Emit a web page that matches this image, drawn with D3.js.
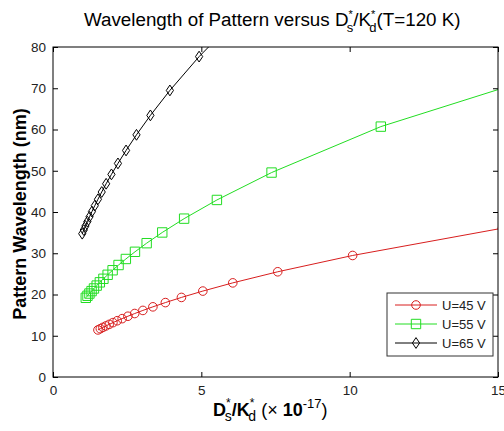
<!DOCTYPE html>
<html><head><meta charset="utf-8">
<script src="https://cdn.jsdelivr.net/npm/d3@7"></script>
<style>body{margin:0;background:#fff}svg{display:block;font-family:"Liberation Sans",Arial,sans-serif}</style>
</head><body><svg id="c" width="504" height="431"></svg>
<script>
// ---- data ----
const xTicks = [0, 5, 10, 15];
const yTicks = [0, 10, 20, 30, 40, 50, 60, 70, 80];
const seriesNames = ["U=45 V", "U=55 V", "U=65 V"];
const x45 = [30.3, 15.15, 10.10, 7.575, 6.06, 5.05, 4.329, 3.788, 3.367, 3.03, 2.755, 2.525, 2.331, 2.164, 2.02, 1.894, 1.782, 1.683, 1.595, 1.515];
const y45 = [51.0, 36.08, 29.46, 25.51, 22.82, 20.83, 19.29, 18.04, 17.01, 16.14, 15.39, 14.73, 14.15, 13.64, 13.18, 12.76, 12.38, 12.03, 11.71, 11.41];
const x55 = [22.1, 11.05, 7.367, 5.525, 4.42, 3.683, 3.157, 2.763, 2.456, 2.21, 2.009, 1.842, 1.70, 1.579, 1.473, 1.381, 1.30, 1.228, 1.163, 1.105];
const y55 = [85.8, 60.70, 49.56, 42.92, 38.39, 35.04, 32.44, 30.35, 28.61, 27.15, 25.88, 24.78, 23.81, 22.95, 22.16, 21.46, 20.82, 20.23, 19.69, 19.20];
const x65 = [19.7, 9.85, 6.567, 4.925, 3.94, 3.283, 2.814, 2.4625, 2.189, 1.97, 1.791, 1.642, 1.515, 1.407, 1.313, 1.231, 1.159, 1.094, 1.037, 0.985];
const y65 = [155.3, 109.8, 89.69, 77.67, 69.47, 63.42, 58.71, 54.92, 51.78, 49.12, 46.84, 44.85, 43.08, 41.52, 40.11, 38.84, 37.67, 36.61, 35.63, 34.74];

const colors = ["#d81e1e", "#22dd22", "#000000"];
const shapes = ["circle", "square", "diamond"];
const series = [[x45, y45], [x55, y55], [x65, y65]].map((d, i) => ({
  name: seriesNames[i], color: colors[i], shape: shapes[i],
  pts: d[0].map((v, j) => [v, d[1][j]])
}));

const svg = d3.select("#c");
const L = 53, R = 498, T = 47, B = 377;
const x = d3.scaleLinear().domain([0, 15]).range([L, R]);
const y = d3.scaleLinear().domain([0, 80]).range([B, T]);

svg.append("rect").attr("width", 504).attr("height", 431).attr("fill", "#fff");
svg.append("defs").append("clipPath").attr("id", "clip")
  .append("rect").attr("x", L).attr("y", T).attr("width", R - L).attr("height", B - T);

function markerPath(shape, cx, cy) {
  if (shape === "circle") { const r = 4.3; return `M${cx - r},${cy}a${r},${r} 0 1,0 ${2 * r},0a${r},${r} 0 1,0 ${-2 * r},0Z`; }
  if (shape === "square") { const s = 4.7; return `M${cx - s},${cy - s}h${2 * s}v${2 * s}h${-2 * s}Z`; }
  const w = 3.6, h = 5.4; return `M${cx},${cy - h}L${cx + w},${cy}L${cx},${cy + h}L${cx - w},${cy}Z`;
}

const plot = svg.append("g").attr("clip-path", "url(#clip)");
const line = d3.line().x(d => x(d[0])).y(d => y(d[1]));
series.forEach(s => {
  plot.append("path").attr("d", line(s.pts)).attr("fill", "none")
    .attr("stroke", s.color).attr("stroke-width", 1);
  plot.selectAll(null).data(s.pts).enter().append("path")
    .attr("d", d => markerPath(s.shape, x(d[0]), y(d[1])))
    .attr("fill", "none").attr("stroke", s.color).attr("stroke-width", 1);
});

// axes
function styleAxis(g, labels) {
  g.selectAll(".domain").remove();
  g.selectAll("line").attr("stroke", "#000");
  g.selectAll("text").attr("font-size", 13.5).attr("fill", "#222")
    .attr("font-family", "'Liberation Sans',Arial,sans-serif");
  if (!labels) g.selectAll("text").remove();
}
svg.append("g").attr("transform", `translate(0,${B})`)
  .call(d3.axisBottom(x).tickValues(xTicks).tickSize(-5).tickPadding(8).tickFormat(d3.format("d")))
  .call(g => styleAxis(g, true));
svg.append("g").attr("transform", `translate(0,${T})`)
  .call(d3.axisTop(x).tickValues(xTicks).tickSize(-5))
  .call(g => styleAxis(g, false));
svg.append("g").attr("transform", `translate(${L},0)`)
  .call(d3.axisLeft(y).tickValues(yTicks).tickSize(-5).tickPadding(7).tickFormat(d3.format("d")))
  .call(g => styleAxis(g, true));
svg.append("g").attr("transform", `translate(${R},0)`)
  .call(d3.axisRight(y).tickValues(yTicks).tickSize(-5))
  .call(g => styleAxis(g, false));
svg.append("rect").attr("x", L).attr("y", T).attr("width", R - L).attr("height", B - T)
  .attr("fill", "none").attr("stroke", "#000").attr("stroke-width", 1);

// title
const title = svg.append("text").attr("x", 84).attr("y", 26).attr("font-size", 18.8).attr("fill", "#000");
title.append("tspan").text("Wavelength of Pattern versus D");
title.append("tspan").attr("dy", -8).attr("font-size", 11).text("*");
title.append("tspan").attr("dx", -6).attr("dy", 14).attr("font-size", 13).text("s");
title.append("tspan").attr("dy", -6).text("/K");
title.append("tspan").attr("dy", -8).attr("font-size", 11).text("*");
title.append("tspan").attr("dx", -6).attr("dy", 14).attr("font-size", 13).text("d");
title.append("tspan").attr("dy", -6).text("(T=120 K)");

// x label
const xl = svg.append("text").attr("x", 213).attr("y", 416).attr("font-size", 18).attr("fill", "#000");
xl.append("tspan").attr("font-weight", "bold").text("D");
xl.append("tspan").attr("dy", -9).attr("font-size", 12).text("*");
xl.append("tspan").attr("dx", -6).attr("dy", 14).attr("font-size", 14).text("s");
xl.append("tspan").attr("dy", -5).attr("font-weight", "bold").text("/K");
xl.append("tspan").attr("dy", -9).attr("font-size", 12).text("*");
xl.append("tspan").attr("dx", -6).attr("dy", 14).attr("font-size", 14).text("d");
xl.append("tspan").attr("dy", -5).attr("dx", 5).text("(× ");
xl.append("tspan").attr("font-weight", "bold").text("10");
xl.append("tspan").attr("dy", -8).attr("font-size", 13).text("-17");
xl.append("tspan").attr("dy", 8).text(")");

// y label
svg.append("text").attr("transform", "translate(26,214) rotate(-90)")
  .attr("text-anchor", "middle").attr("font-size", 18).attr("font-weight", "bold")
  .attr("fill", "#000").text("Pattern Wavelength (nm)");

// legend
const lg = svg.append("g");
lg.append("rect").attr("x", 387).attr("y", 293).attr("width", 106).attr("height", 63)
  .attr("fill", "#fff").attr("stroke", "#333").attr("stroke-width", 1);
series.forEach((s, i) => {
  const cy = 305 + i * 19;
  lg.append("line").attr("x1", 395).attr("x2", 437).attr("y1", cy).attr("y2", cy)
    .attr("stroke", s.color).attr("stroke-width", 1);
  lg.append("path").attr("d", markerPath(s.shape, 416, cy)).attr("fill", "none").attr("stroke", s.color);
  lg.append("text").attr("x", 442).attr("y", cy + 5).attr("font-size", 13).attr("fill", "#222").text(s.name);
});
</script></body></html>
